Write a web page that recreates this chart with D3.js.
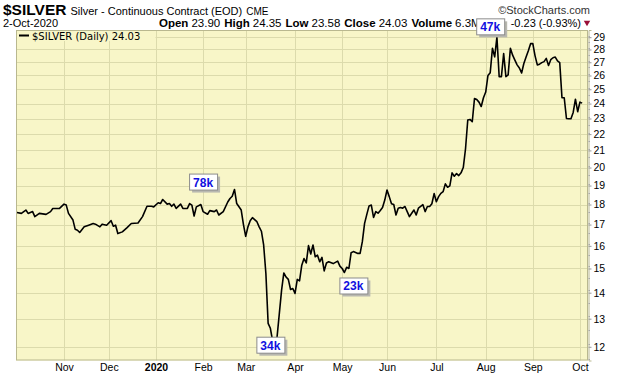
<!DOCTYPE html>
<html>
<head>
<meta charset="utf-8">
<script src="https://cdn.jsdelivr.net/npm/d3@7"></script>
<style>
  body { margin: 0; background: #fff; }
  svg { display: block; }
  text { font-family: "Liberation Sans", Arial, sans-serif; }
</style>
</head>
<body>
<div id="chart"></div>
<script>
// exchange holidays, so the x axis runs on trading days like the original
var holidays = ["2019-11-28", "2019-12-25", "2020-01-01", "2020-01-20", "2020-02-17",
                "2020-04-10", "2020-05-25", "2020-07-03", "2020-09-07"];

// daily closes
var silverDaily = [
  ["2019-10-03",17.60],["2019-10-07",17.55],["2019-10-09",17.72],["2019-10-10",17.55],["2019-10-14",17.64],
  ["2019-10-15",17.39],["2019-10-17",17.55],["2019-10-22",17.50],["2019-10-24",17.64],["2019-10-25",17.80],
  ["2019-10-30",17.80],["2019-11-01",18.02],["2019-11-04",17.97],["2019-11-05",17.55],["2019-11-07",17.22],
  ["2019-11-08",16.77],["2019-11-11",16.73],["2019-11-12",16.62],["2019-11-14",16.89],["2019-11-18",16.97],
  ["2019-11-20",17.05],["2019-11-21",17.02],["2019-11-25",16.89],["2019-11-26",17.02],["2019-11-29",16.97],
  ["2019-12-03",17.19],["2019-12-04",16.92],["2019-12-05",16.97],["2019-12-06",16.57],["2019-12-10",16.65],
  ["2019-12-12",16.84],["2019-12-16",17.05],["2019-12-19",17.08],["2019-12-23",17.39],["2019-12-26",17.91],
  ["2019-12-30",17.91],["2019-12-31",17.88],["2020-01-03",18.09],["2020-01-06",18.05],["2020-01-07",18.26],
  ["2020-01-09",18.02],["2020-01-10",18.05],["2020-01-13",17.91],["2020-01-14",18.02],["2020-01-15",17.80],
  ["2020-01-17",18.02],["2020-01-21",17.80],["2020-01-23",17.80],["2020-01-24",18.05],["2020-01-27",17.97],
  ["2020-01-28",17.42],["2020-01-29",17.88],["2020-01-31",18.00],["2020-02-03",17.64],["2020-02-05",17.51],
  ["2020-02-06",17.69],["2020-02-10",17.64],["2020-02-11",17.72],["2020-02-12",17.47],["2020-02-14",17.64],
  ["2020-02-19",18.13],["2020-02-20",18.31],["2020-02-21",18.43],["2020-02-24",18.79],["2020-02-25",18.05],
  ["2020-02-27",17.72],["2020-02-28",17.00],["2020-03-02",16.44],["2020-03-03",16.89],["2020-03-04",17.19],
  ["2020-03-05",17.34],["2020-03-09",17.14],["2020-03-10",16.89],["2020-03-11",16.68],["2020-03-12",16.04],
  ["2020-03-13",14.79],["2020-03-16",12.83],["2020-03-17",12.65],["2020-03-18",12.20],["2020-03-19",11.75],
  ["2020-03-20",12.35],["2020-03-23",13.20],["2020-03-24",14.10],["2020-03-25",14.81],["2020-03-26",14.64],
  ["2020-03-27",14.54],["2020-03-30",14.13],["2020-03-31",14.17],["2020-04-01",13.97],["2020-04-02",14.54],
  ["2020-04-03",14.48],["2020-04-06",15.14],["2020-04-07",15.43],["2020-04-08",15.24],["2020-04-09",16.01],
  ["2020-04-13",15.63],["2020-04-14",16.04],["2020-04-15",15.51],["2020-04-16",15.58],["2020-04-17",15.29],
  ["2020-04-20",15.48],["2020-04-21",14.90],["2020-04-22",15.24],["2020-04-23",15.29],["2020-04-27",15.21],
  ["2020-04-29",15.32],["2020-04-30",15.10],["2020-05-01",15.00],["2020-05-04",14.83],["2020-05-05",15.05],
  ["2020-05-06",15.00],["2020-05-07",15.69],["2020-05-08",15.74],["2020-05-11",15.70],["2020-05-12",15.66],
  ["2020-05-13",15.66],["2020-05-14",16.19],["2020-05-15",17.06],["2020-05-18",17.50],["2020-05-19",17.93],
  ["2020-05-20",17.97],["2020-05-21",17.35],["2020-05-22",17.64],["2020-05-26",17.56],["2020-05-27",17.70],
  ["2020-05-28",17.85],["2020-05-29",18.23],["2020-06-01",18.76],["2020-06-02",18.41],["2020-06-03",18.04],
  ["2020-06-04",18.00],["2020-06-05",17.47],["2020-06-08",17.81],["2020-06-09",17.85],["2020-06-10",17.81],
  ["2020-06-11",17.90],["2020-06-12",17.64],["2020-06-15",17.39],["2020-06-16",17.56],["2020-06-17",17.72],
  ["2020-06-18",17.47],["2020-06-19",17.81],["2020-06-22",17.90],["2020-06-23",17.99],["2020-06-24",17.64],
  ["2020-06-25",17.90],["2020-06-26",17.90],["2020-06-29",18.04],["2020-06-30",18.57],["2020-07-01",18.14],
  ["2020-07-02",18.41],["2020-07-06",18.58],["2020-07-07",18.67],["2020-07-08",19.09],["2020-07-09",18.91],
  ["2020-07-10",18.98],["2020-07-13",19.70],["2020-07-14",19.51],["2020-07-15",19.66],["2020-07-16",19.55],
  ["2020-07-17",19.70],["2020-07-20",20.00],["2020-07-21",21.10],["2020-07-22",22.90],["2020-07-23",22.94],
  ["2020-07-24",22.79],["2020-07-27",24.35],["2020-07-28",24.28],["2020-07-29",24.10],["2020-07-30",23.80],
  ["2020-07-31",24.40],["2020-08-03",24.80],["2020-08-04",26.00],["2020-08-05",26.20],["2020-08-06",28.10],
  ["2020-08-07",27.42],["2020-08-10",29.00],["2020-08-11",25.92],["2020-08-12",25.92],["2020-08-13",27.68],
  ["2020-08-14",25.92],["2020-08-17",26.05],["2020-08-18",28.10],["2020-08-19",27.55],["2020-08-20",27.17],
  ["2020-08-21",26.80],["2020-08-24",26.56],["2020-08-25",26.19],["2020-08-26",26.90],["2020-08-27",27.40],
  ["2020-08-28",27.90],["2020-08-31",28.47],["2020-09-01",28.47],["2020-09-02",27.50],["2020-09-03",26.80],
  ["2020-09-04",26.85],["2020-09-08",26.97],["2020-09-09",27.05],["2020-09-10",27.30],["2020-09-11",26.75],
  ["2020-09-14",27.20],["2020-09-15",27.35],["2020-09-16",27.40],["2020-09-17",27.10],["2020-09-18",26.97],
  ["2020-09-21",24.40],["2020-09-22",24.40],["2020-09-23",23.00],["2020-09-24",22.98],["2020-09-25",22.98],
  ["2020-09-28",23.40],["2020-09-29",24.30],["2020-09-30",23.45],["2020-10-01",24.10],["2020-10-02",24.03]
];

var monthTicks = [
  ["2019-11-01","Nov"],["2019-12-02","Dec"],["2020-01-02","2020"],["2020-02-03","Feb"],
  ["2020-03-02","Mar"],["2020-04-01","Apr"],["2020-05-01","May"],["2020-06-01","Jun"],
  ["2020-07-01","Jul"],["2020-08-03","Aug"],["2020-09-01","Sep"],["2020-10-01","Oct"]
];

var yTicks = [12,13,14,15,16,17,18,19,20,21,22,23,24,25,26,27,28,29];

// volume tags: label, date under the tag centre, price at the tag's top edge
var volumeTags = [
  ["78k", "2020-02-03", 19.66],
  ["34k", "2020-03-17", 12.35],
  ["23k", "2020-05-08", 14.62],
  ["47k", "2020-08-05", 30.6]
];

var quote = [["Open","23.90"],["High","24.35"],["Low","23.58"],["Close","24.03"],["Volume","6.3M"]];

// ---- trading day index ----
var fmt = d3.timeFormat("%Y-%m-%d");
var tradingDays = d3.timeDay.range(new Date(2019, 9, 1), new Date(2020, 9, 3))
  .filter(function(d) { return d.getDay() % 6 !== 0 && holidays.indexOf(fmt(d)) < 0; })
  .map(fmt);
var dayIndex = {};
tradingDays.forEach(function(d, i) { dayIndex[d] = i; });

var plot = {left: 16, right: 588, top: 30, bottom: 360.5};
var plotFill = "#f8f6c8", gridColor = "#dcdbac", borderColor = "#b9b88f";

var svg = d3.select("#chart").append("svg")
            .attr("width", 620)
            .attr("height", 376);

var x = d3.scaleLinear().domain([1.6, 256.6]).range([plot.left, plot.right]);
var y = d3.scaleLog().domain([11.54, 29.6]).range([plot.bottom, plot.top]);

svg.append("rect")
   .attr("x", plot.left).attr("y", plot.top)
   .attr("width", plot.right - plot.left).attr("height", plot.bottom - plot.top)
   .attr("fill", plotFill);

// grid
svg.append("g").selectAll("line")
   .data(yTicks).enter().append("line")
   .attr("x1", plot.left).attr("x2", plot.right)
   .attr("y1", function(d) { return Math.round(y(d)) + 0.5; })
   .attr("y2", function(d) { return Math.round(y(d)) + 0.5; })
   .attr("stroke", gridColor);

svg.append("g").selectAll("line")
   .data(monthTicks).enter().append("line")
   .attr("x1", function(d) { return Math.round(x(dayIndex[d[0]])) + 0.5; })
   .attr("x2", function(d) { return Math.round(x(dayIndex[d[0]])) + 0.5; })
   .attr("y1", plot.top).attr("y2", plot.bottom)
   .attr("stroke", gridColor);

// legend sits on a patch of plot colour
svg.append("rect")
   .attr("x", plot.left + 0.5).attr("y", plot.top + 0.5)
   .attr("width", 139).attr("height", 10.5)
   .attr("fill", plotFill);
svg.append("line")
   .attr("x1", 19).attr("x2", 29).attr("y1", 35.5).attr("y2", 35.5)
   .attr("stroke", "#000").attr("stroke-width", 2);
svg.append("text")
   .attr("x", 32).attr("y", 39.5)
   .style("font-family", "'DejaVu Sans', Verdana, sans-serif")
   .style("font-size", "10px")
   .text("$SILVER (Daily) 24.03");

// price line
svg.append("clipPath").attr("id", "clip")
   .append("rect")
   .attr("x", plot.left).attr("y", plot.top)
   .attr("width", plot.right - plot.left).attr("height", plot.bottom - plot.top);

var line = d3.line()
  .x(function(d) { return x(dayIndex[d[0]]); })
  .y(function(d) { return y(d[1]); });

svg.append("path")
   .datum(silverDaily)
   .attr("clip-path", "url(#clip)")
   .attr("d", line)
   .attr("fill", "none")
   .attr("stroke", "#000")
   .attr("stroke-width", 1.6)
   .attr("stroke-linejoin", "round");

// border
svg.append("rect")
   .attr("x", plot.left + 0.5).attr("y", plot.top + 0.5)
   .attr("width", plot.right - plot.left - 1).attr("height", plot.bottom - plot.top - 1)
   .attr("fill", "none").attr("stroke", borderColor);

// right axis
var yAxis = d3.axisRight(y)
  .tickValues(yTicks)
  .tickFormat(d3.format("d"))
  .tickSize(3)
  .tickPadding(2);

var yAxisG = svg.append("g")
   .attr("transform", "translate(" + (plot.right + 0.5) + ",0)")
   .call(yAxis);
yAxisG.select(".domain").attr("stroke", borderColor);
yAxisG.selectAll(".tick line").attr("stroke", "#999");
yAxisG.selectAll("text")
   .style("font-size", "10.5px")
   .attr("fill", "#000")
   .style("font-family", "'Liberation Sans', Arial, sans-serif");

// minor ticks on the price axis
svg.append("g").selectAll("line")
   .data(d3.range(11.6, 29.6, 0.5)).enter().append("line")
   .attr("x1", plot.right + 0.5).attr("x2", plot.right + 2)
   .attr("y1", function(d) { return Math.round(y(d)) + 0.5; })
   .attr("y2", function(d) { return Math.round(y(d)) + 0.5; })
   .attr("stroke", "#aaa");

// month labels
var xAxis = d3.axisBottom(x)
  .tickValues(monthTicks.map(function(d) { return dayIndex[d[0]]; }))
  .tickFormat(function(d, i) { return monthTicks[i][1]; })
  .tickSize(0)
  .tickPadding(3);

var xAxisG = svg.append("g")
   .attr("transform", "translate(0," + plot.bottom + ")")
   .call(xAxis);
xAxisG.select(".domain").remove();
xAxisG.selectAll("text")
   .style("font-size", "10.5px")
   .attr("fill", "#000")
   .style("font-family", "'Liberation Sans', Arial, sans-serif")
   .style("font-weight", function(d, i) { return monthTicks[i][1] === "2020" ? "bold" : "normal"; });

// header
var title = svg.append("text").attr("x", 3).attr("y", 15);
title.append("tspan").style("font-weight", "bold").style("font-size", "15.5px").text("$SILVER");
title.append("tspan").attr("dx", 4).style("font-size", "11px").text("Silver - Continuous Contract (EOD)");
title.append("tspan").attr("dx", 4).style("font-size", "10px").text("CME");

svg.append("text")
   .attr("x", 590).attr("y", 14)
   .attr("text-anchor", "end")
   .attr("fill", "#333")
   .style("font-size", "11px")
   .text("\u00a9StockCharts.com");

svg.append("text")
   .attr("x", 3).attr("y", 27)
   .style("font-size", "11px")
   .text("2-Oct-2020");

var q = svg.append("text").attr("x", 159).attr("y", 27).style("font-size", "11.5px");
quote.forEach(function(d, i) {
  q.append("tspan").attr("dx", i ? 4 : 0).style("font-weight", "bold").text(d[0]);
  q.append("tspan").attr("dx", 3).text(d[1]);
});

svg.append("text")
   .attr("x", 581).attr("y", 27)
   .attr("text-anchor", "end")
   .style("font-size", "11px")
   .text("-0.23 (-0.93%)");

svg.append("path")
   .attr("d", d3.symbol().type(d3.symbolTriangle).size(18))
   .attr("transform", "translate(587,22.5) rotate(180)")
   .attr("fill", "#99103a");

// volume tags
var tags = svg.append("g").selectAll("g")
   .data(volumeTags).enter().append("g")
   .attr("transform", function(d) {
     return "translate(" + (x(dayIndex[d[1]]) - 14) + "," + y(d[2]) + ")";
   });

tags.append("rect")
   .attr("x", 3).attr("y", 3).attr("width", 28).attr("height", 16)
   .attr("fill", "#b8b8b0");
tags.append("rect")
   .attr("x", 0.5).attr("y", 0.5).attr("width", 28).attr("height", 16)
   .attr("fill", "#fff").attr("stroke", "#8c8c8c");
tags.append("text")
   .attr("x", 4).attr("y", 13)
   .attr("fill", "#1010e0")
   .style("font-size", "12px")
   .style("font-weight", "bold")
   .text(function(d) { return d[0]; });
</script>
</body>
</html>
